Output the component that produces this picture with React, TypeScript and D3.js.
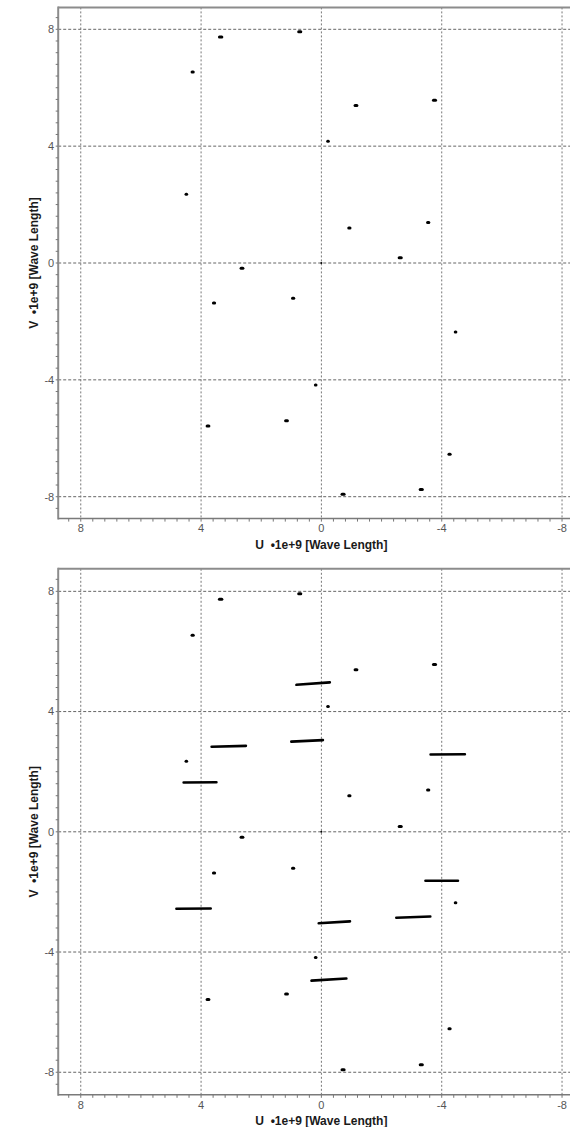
import React from "react";
import * as d3 from "d3";

// Snapshot (short) UV samples, in units of 1e9 wavelengths
const pointU = [3.35, 4.28, 4.49, 2.64, 0.94, 0.72, -1.15, -3.76, -0.22, -0.93, -3.55, -2.62, 0.0, -3.32, -4.26, -4.46, 1.16, 3.77, 0.19, 3.57, -0.72];
const pointV = [7.74, 6.54, 2.35, -0.18, -1.21, 7.92, 5.39, 5.57, 4.17, 1.2, 1.39, 0.18, 0.0, -7.75, -6.55, -2.36, -5.4, -5.58, -4.18, -1.37, -7.92];
// u-extent of each short sample track
const pointSpan = [0.08, 0.04, 0.02, 0.06, 0.04, 0.07, 0.06, 0.07, 0.02, 0.04, 0.04, 0.07, 0.0, 0.07, 0.04, 0.02, 0.06, 0.06, 0.02, 0.04, 0.07];

// Long UV tracks (start/end), shown in the second panel
const trackU0 = [4.58, 3.65, 0.83, 1.0, -3.63, 4.82, -3.46, 0.09, -2.49, 0.33];
const trackU1 = [3.49, 2.51, -0.28, -0.05, -4.77, 3.68, -4.54, -0.95, -3.62, -0.83];
const trackV0 = [1.64, 2.83, 4.89, 3.0, 2.57, -2.56, -1.63, -3.04, -2.86, -4.95];
const trackV1 = [1.65, 2.86, 4.97, 3.05, 2.58, -2.55, -1.63, -2.98, -2.82, -4.88];

const majorTicks = [8, 4, 0, -4, -8];
const axisMax = 8.75;
const xTitle = "U\u00a0 \u20221e+9 [Wave Length]";
const yTitle = "V\u00a0 \u20221e+9 [Wave Length]";

const W = 570;
const H = 1127;
const FONT = "'Liberation Sans', Arial, sans-serif";

const x = d3.scaleLinear().domain([axisMax, -axisMax]).range([58.2, 584.6]);
const minorTicks = d3.range(-21, 22).map((i) => i * 0.4).filter((t) => Math.abs(t) <= axisMax);

function Panel({ top, bottom, showTracks }: { top: number; bottom: number; showTracks: boolean }) {
  const y = d3.scaleLinear().domain([-axisMax, axisMax]).range([bottom, top]);
  const left = x.range()[0];
  const right = x.range()[1];
  const fmt = (d: number) => String(d);
  return (
    <g>
      {/* grid */}
      {majorTicks.map((t) => (
        <line key={"h" + t} x1={left} x2={right} y1={y(t)} y2={y(t)} stroke="#666" strokeWidth={1} strokeDasharray="3,2" />
      ))}
      {majorTicks.map((t) => (
        <line key={"v" + t} x1={x(t)} x2={x(t)} y1={top} y2={bottom} stroke="#777" strokeWidth={1} strokeDasharray="2,2" />
      ))}

      {/* short samples */}
      {pointU.map((u, i) => (
        <line
          key={"p" + i}
          x1={x(u + pointSpan[i] / 2)}
          x2={x(u - pointSpan[i] / 2)}
          y1={y(pointV[i])}
          y2={y(pointV[i])}
          stroke="#000"
          strokeWidth={u === 0 && pointV[i] === 0 ? 2 : 3}
          strokeLinecap="round"
        />
      ))}

      {/* long tracks */}
      {showTracks &&
        trackU0.map((u, i) => (
          <line
            key={"t" + i}
            x1={x(u)}
            x2={x(trackU1[i])}
            y1={y(trackV0[i])}
            y2={y(trackV1[i])}
            stroke="#000"
            strokeWidth={2.6}
            strokeLinecap="round"
          />
        ))}

      {/* frame */}
      <line x1={left} x2={right} y1={top} y2={top} stroke="#8c8c8c" strokeWidth={2} />
      <line x1={left} x2={left} y1={top - 1} y2={bottom + 1} stroke="#8c8c8c" strokeWidth={2} />
      <line x1={left} x2={right} y1={bottom} y2={bottom} stroke="#7a7a7a" strokeWidth={1.5} />

      {/* minor ticks */}
      {minorTicks.map((t) => (
        <line key={"yt" + t} x1={left - 2.5} x2={left} y1={y(t)} y2={y(t)} stroke="#777" strokeWidth={1} />
      ))}
      {minorTicks.map((t) => (
        <line key={"xt" + t} x1={x(t)} x2={x(t)} y1={bottom} y2={bottom + 3} stroke="#777" strokeWidth={1} />
      ))}

      {/* tick labels */}
      {majorTicks.map((t) => (
        <text key={"yl" + t} x={left - 4} y={y(t)} dy="0.35em" textAnchor="end" fontSize={11} fill="#555" fontFamily={FONT}>
          {fmt(t)}
        </text>
      ))}
      {majorTicks.map((t) => (
        <text key={"xl" + t} x={x(t)} y={bottom + 10} dy="0.35em" textAnchor="middle" fontSize={11} fill="#555" fontFamily={FONT}>
          {fmt(t)}
        </text>
      ))}

      {/* axis titles */}
      <text x={x(0)} y={bottom + 26} dy="0.35em" textAnchor="middle" fontSize={12} fontWeight="bold" fill="#1a1a1a" fontFamily={FONT}>
        {xTitle}
      </text>
      <text
        transform={`translate(34,${(top + bottom) / 2}) rotate(-90)`}
        dy="0.35em"
        textAnchor="middle"
        fontSize={12}
        fontWeight="bold"
        fill="#1a1a1a"
        fontFamily={FONT}
      >
        {yTitle}
      </text>
    </g>
  );
}

export default function App() {
  return (
    <svg
      width={W}
      height={H}
      viewBox={`0 0 ${W} ${H}`}
      style={{ position: "absolute", left: 0, top: 0, background: "#fff" }}
    >
      <rect width={W} height={H} fill="#fff" />
      <Panel top={7.4} bottom={518.6} showTracks={false} />
      <Panel top={568.8} bottom={1094.8} showTracks={true} />
    </svg>
  );
}
